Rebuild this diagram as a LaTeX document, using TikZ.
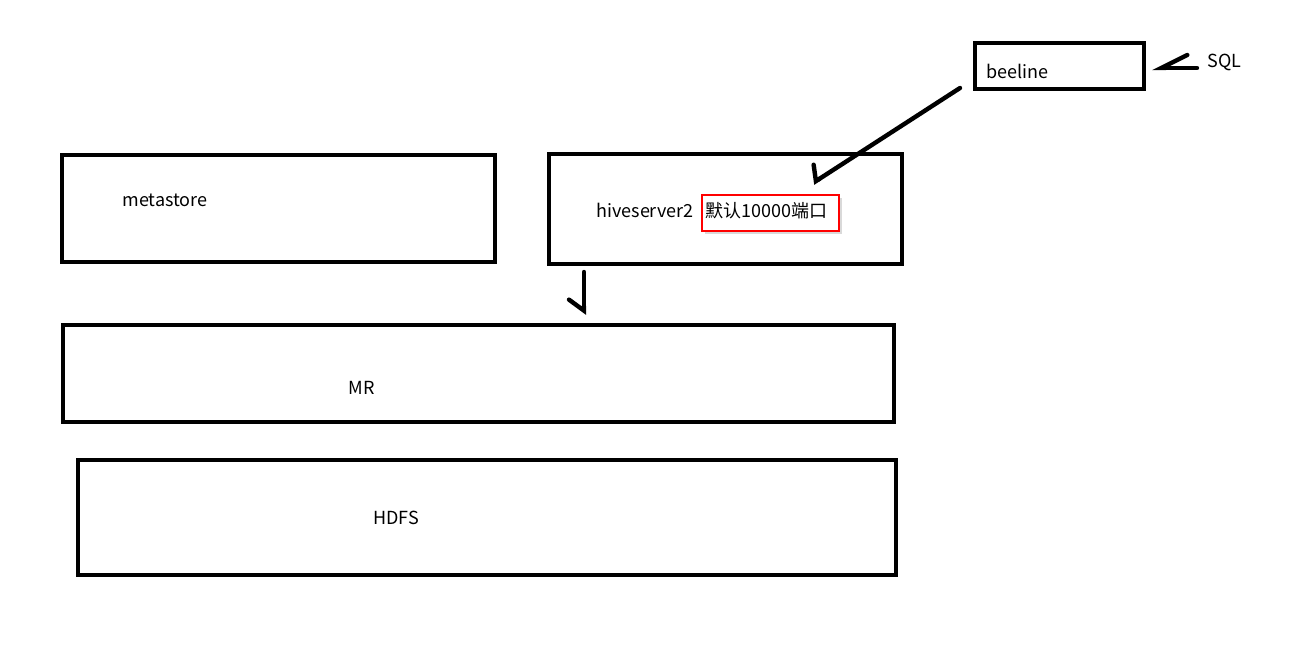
\documentclass[tikz,border=0pt]{standalone}
\usepackage{fontspec}
\setmainfont{Noto Sans CJK SC}
\usetikzlibrary{arrows.meta,shadows}

\begin{document}
\begin{tikzpicture}[
  x=0.5pt, y=-0.5pt,
  box/.style={draw, line width=2.3pt, inner sep=0pt},
  lbl/.style={inner sep=0pt, anchor=base west, font=\fontsize{9}{11}\selectfont},
  port/.style={draw=red, line width=1pt, fill=white, inner sep=0pt,
    drop shadow={opacity=0.3, shadow xshift=1.5pt, shadow yshift=-1.5pt}},
  hand/.style 2 args={line width=2.2pt, line cap=round,
    -{Straight Barb[harpoon, swap, length=#1, width=#2, line cap=round]}}
]
\useasboundingbox (0,0) rectangle (1296,668);

% --- client side ---
\node[box, minimum width=84.5pt, minimum height=23pt] (beeline) at (1059.5,66) {};
\node[lbl] (beelineT) at (986,79) {beeline};
\node[lbl] (sql) at (1207,68) {SQL};

% --- servers ---
\node[box, minimum width=216.5pt, minimum height=53.5pt] (metastore) at (278.5,208.5) {};
\node[lbl] (metastoreT) at (122,207) {metastore};

\node[box, minimum width=176.5pt, minimum height=55pt] (hs2) at (725.5,209) {};
\node[port, minimum width=68.5pt, minimum height=18pt] (port) at (770.5,213) {};
\node[lbl] (hs2T) at (596,218) {hiveserver2};
\node[lbl] (portT) at (705,218) {默认10000端口};

% --- compute and storage ---
\node[box, minimum width=415.5pt, minimum height=48.5pt] (mr) at (478.5,373.5) {};
\node[lbl, anchor=base] (mrT) at (362,394) {MR};
\node[box, minimum width=409pt, minimum height=57.5pt] (hdfs) at (487,517.5) {};
\node[lbl, anchor=base] (hdfsT) at (396,524) {HDFS};

% --- arrows ---
\coordinate (sqlFrom) at (1197,68);
\coordinate (sqlTo) at (1152,68);
\coordinate (blFrom) at (960,88);
\coordinate (blTo) at (813,183);
\coordinate (hsFrom) at (584,272);
\coordinate (hsTo) at (584,315);
\draw[hand={13pt}{13pt}] (sqlFrom) -- (sqlTo);
\draw[hand={3.5pt}{15pt}] (blFrom) -- (blTo);
\draw[hand={5.5pt}{15pt}] (hsFrom) -- (hsTo);

\end{tikzpicture}
\end{document}
